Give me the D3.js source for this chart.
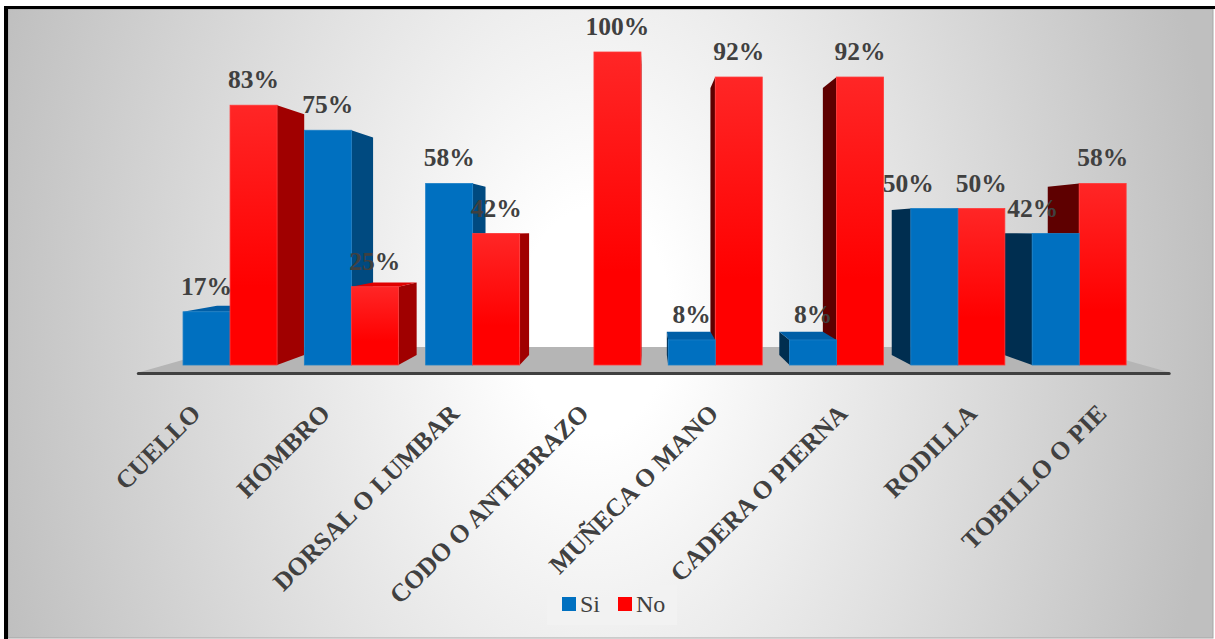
<!DOCTYPE html>
<html lang="es">
<head>
<meta charset="UTF-8">
<title>Si / No por zona</title>
<script src="https://d3js.org/d3.v7.min.js"></script>
<style>
  body { margin: 0; background: #fff; }
  svg { display: block; }
  .val { fill: #404040; font-family: "Liberation Serif", "Times New Roman", serif; font-weight: bold; font-size: 25.5px; text-anchor: middle; }
  .cat { fill: #404040; font-family: "Liberation Serif", "Times New Roman", serif; font-weight: bold; font-size: 25.5px; text-anchor: end; }
  .leg { fill: #404040; font-family: "Liberation Serif", "Times New Roman", serif; font-size: 24px; }
</style>
</head>
<body>
<svg id="chart" width="1215" height="639"></svg>
<script>
// data
const categories = ["CUELLO", "HOMBRO", "DORSAL O LUMBAR", "CODO O ANTEBRAZO",
                    "MUÑECA O MANO", "CADERA O PIERNA", "RODILLA", "TOBILLO O PIE"];
const siValues = [17, 75, 58, 0, 8, 8, 50, 42];
const noValues = [83, 25, 42, 100, 92, 92, 50, 58];
const seriesNames = ["Si", "No"];

const W = 1215, H = 639;
const svg = d3.select("#chart");
const defs = svg.append("defs");

// background gradient (white centre, grey sides)
const bg = defs.append("radialGradient").attr("id", "bg")
  .attr("gradientUnits", "userSpaceOnUse")
  .attr("cx", 595).attr("cy", 320).attr("r", 625)
  .attr("gradientTransform", "translate(595,320) scale(1,1.5) translate(-595,-320)");
bg.append("stop").attr("offset", 0).attr("stop-color", "#ffffff");
bg.append("stop").attr("offset", 0.12).attr("stop-color", "#ffffff");
bg.append("stop").attr("offset", 1).attr("stop-color", "#bfbfbf");

const redGrad = defs.append("linearGradient").attr("id", "redFront")
  .attr("x1", 0).attr("y1", 0).attr("x2", 0).attr("y2", 1);
redGrad.append("stop").attr("offset", 0).attr("stop-color", "#ff2626");
redGrad.append("stop").attr("offset", 0.7).attr("stop-color", "#ff0000");

svg.append("rect").attr("x", 8).attr("y", 9).attr("width", 1205).attr("height", 629)
  .attr("fill", "url(#bg)").attr("stroke", "#a6a6a6").attr("stroke-width", 1);
// black frame lines top / left
svg.append("rect").attr("x", 4).attr("y", 6).attr("width", W - 4).attr("height", 3).attr("fill", "#000");
svg.append("rect").attr("x", 4).attr("y", 6).attr("width", 4).attr("height", H - 6).attr("fill", "#000");

// scales
const x = d3.scaleBand().domain(categories).range([169.4, 1139.8])
  .paddingInner(0.225).paddingOuter(0.1125);
const xs = d3.scaleBand().domain(seriesNames).range([0, x.bandwidth()]);
const y = d3.scaleLinear().domain([0, 100]).range([365, 52]);

// simple one-point perspective
const VP = { x: 649, y: 228 };
const DEPTH = 0.073;
const proj = (px, py, t) => [px + t * (VP.x - px), py + t * (VP.y - py)];

const colors = {
  Si: { front: "#0070c0", right: "#004a80", left: "#002e50", top: "#005ea6", edge: "#1b7fc6" },
  No: { front: "url(#redFront)", right: "#a00000", left: "#5e0000", top: "#e00000", edge: "#ff3a3a" }
};

// floor
const fx0 = 165, fx1 = 1143, tFront = -0.051, tBack = 0.131;
const floorPts = [proj(fx0, y(0), tFront), proj(fx1, y(0), tFront), proj(fx1, y(0), tBack), proj(fx0, y(0), tBack)];
svg.append("polygon").attr("points", floorPts.map(p => p.join(",")).join(" "))
  .attr("fill", "#b5b5b5");
svg.append("line")
  .attr("x1", floorPts[0][0] - 2).attr("y1", floorPts[0][1] + 1.5)
  .attr("x2", floorPts[1][0] + 1).attr("y2", floorPts[1][1] + 1.5)
  .attr("stroke", "#404040").attr("stroke-width", 3).attr("stroke-linecap", "round");

// bars
const bars = [];
categories.forEach((c, i) => {
  [siValues[i], noValues[i]].forEach((v, j) => {
    const s = seriesNames[j];
    if (v <= 0) return;
    bars.push({ cat: c, s, v, x0: x(c) + xs(s), x1: x(c) + xs(s) + xs.bandwidth() });
  });
});
bars.sort((a, b) => Math.abs((b.x0 + b.x1) / 2 - VP.x) - Math.abs((a.x0 + a.x1) / 2 - VP.x));

const poly = pts => pts.map(p => p.join(",")).join(" ");
const gBars = svg.append("g");
bars.forEach(b => {
  const yt = y(b.v), yb = y(0), col = colors[b.s];
  const g = gBars.append("g");
  if (b.x1 < VP.x) {
    g.append("polygon").attr("fill", col.right)
      .attr("points", poly([[b.x1, yt], proj(b.x1, yt, DEPTH), proj(b.x1, yb, DEPTH), [b.x1, yb]]));
  }
  if (b.x0 > VP.x) {
    g.append("polygon").attr("fill", col.left)
      .attr("points", poly([[b.x0, yt], proj(b.x0, yt, DEPTH), proj(b.x0, yb, DEPTH), [b.x0, yb]]));
  }
  if (yt > VP.y) {
    g.append("polygon").attr("fill", col.top)
      .attr("points", poly([[b.x0, yt], [b.x1, yt], proj(b.x1, yt, DEPTH), proj(b.x0, yt, DEPTH)]));
  }
  g.append("rect").attr("x", b.x0).attr("y", yt).attr("width", b.x1 - b.x0).attr("height", yb - yt)
    .attr("fill", col.front).attr("stroke", col.edge).attr("stroke-width", 0.8);
});

// value labels (two of them were moved aside in the original)
const labelNudge = { "RODILLA|Si": -26, "TOBILLO O PIE|Si": -23 };
svg.append("g").selectAll("text").data(bars).join("text")
  .attr("class", "val")
  .attr("x", d => (d.x0 + d.x1) / 2 + (labelNudge[d.cat + "|" + d.s] || 0))
  .attr("y", d => y(d.v) - 17)
  .text(d => d.v + "%");

// category labels, rotated, anchored on the front floor edge
svg.append("g").selectAll("text").data(categories).join("text")
  .attr("class", "cat")
  .attr("transform", d => {
    const cx = x(d) + x.bandwidth() / 2;
    const ex = cx + 0.067 * (cx - VP.x);
    return `translate(${ex},415) rotate(-45)`;
  })
  .text(d => d);

// legend
const leg = svg.append("g");
leg.append("rect").attr("x", 547).attr("y", 585).attr("width", 130).attr("height", 40)
  .attr("fill", "#f2f2f2").attr("opacity", 0.85);
const legItems = [{ s: "Si", c: "#0070c0", x: 562 }, { s: "No", c: "#ff0000", x: 618 }];
legItems.forEach(it => {
  leg.append("rect").attr("x", it.x).attr("y", 597).attr("width", 14).attr("height", 14).attr("fill", it.c);
  leg.append("text").attr("class", "leg").attr("x", it.x + 18).attr("y", 612).text(it.s);
});
</script>
</body>
</html>
